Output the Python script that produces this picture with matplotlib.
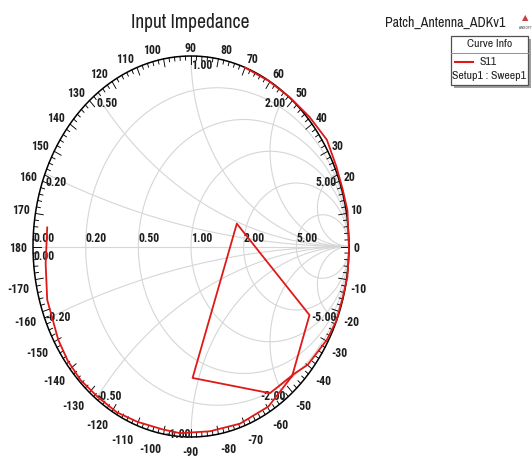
import numpy as np
import matplotlib
matplotlib.use('Agg')
import matplotlib.pyplot as plt
from matplotlib.patches import Rectangle

W, H = 532, 457
plt.rcParams['font.family'] = ['Liberation Sans Narrow', 'Archivo Narrow', 'Roboto Condensed', 'DejaVu Sans']
lab_fam = ['Liberation Sans Narrow', 'Roboto Condensed', 'Archivo Narrow', 'DejaVu Sans']

s11_re = [-0.91, -0.92, -0.91, -0.87, -0.84, -0.78, -0.70, -0.59, -0.47, -0.34,
          -0.18, -0.07, 0.12, 0.31, 0.49, 0.64, 0.75, 0.29, 0.01, 0.50,
          0.65, 0.74, 0.86, 0.92, 0.96, 0.99, 1.00, 0.99, 0.96, 0.92,
          0.86, 0.75, 0.63, 0.49, 0.34]
s11_im = [0.10, -0.09, -0.28, -0.40, -0.49, -0.60, -0.70, -0.79, -0.87, -0.92,
          -0.96, -0.98, -0.97, -0.93, -0.84, -0.68, -0.36, 0.12, -0.69, -0.77,
          -0.67, -0.62, -0.49, -0.39, -0.27, -0.16, -0.02, 0.19, 0.30, 0.42,
          0.56, 0.68, 0.78, 0.87, 0.94]

r_circles = [0.2, 0.5, 1.0, 2.0, 5.0]
r_labels = ['0.20', '0.50', '1.00', '2.00', '5.00']
x_arcs = [0.2, 0.5, 1.0, 2.0, 5.0]
x_labels = ['0.20', '0.50', '1.00', '2.00', '5.00']
angle_labels = list(range(-170, 190, 10))

grid_col = '#d6d6d6'
txt_col = '#1e1e1e'
rx, ry = 158.0, 190.5   # circle radius in pixels (chart is stretched)

fig = plt.figure(figsize=(W / 100, H / 100), dpi=100)
ax = fig.add_axes([33 / W, 1 - 437 / H, 316 / W, 381 / H])
ax.set_xlim(-1, 1)
ax.set_ylim(-1, 1)
ax.axis('off')

t = np.linspace(0, 2 * np.pi, 500)
# constant resistance circles
for r in r_circles:
    c = r / (1 + r)
    rad = 1 / (1 + r)
    ax.plot(c + rad * np.cos(t), rad * np.sin(t), color=grid_col, lw=0.8, zorder=1)
# constant reactance arcs
rr = np.concatenate([[0], np.geomspace(1e-3, 1e4, 900)])
for x in x_arcs:
    for sgn in (1, -1):
        z = rr + 1j * sgn * x
        g = (z - 1) / (z + 1)
        ax.plot(g.real, g.imag, color=grid_col, lw=0.8, zorder=1)
ax.plot([-1, 1], [0, 0], color=grid_col, lw=0.8, zorder=1)

# outer circle and degree ticks
ax.plot(np.cos(t), np.sin(t), color='black', lw=1.1, zorder=3, clip_on=False)
for deg in range(-180, 180, 2):
    a = np.radians(deg)
    L = 8 if deg % 10 == 0 else 4
    ax.plot([np.cos(a), (1 - L / rx) * np.cos(a)], [np.sin(a), (1 - L / ry) * np.sin(a)],
            color='black', lw=0.65, zorder=3, clip_on=False)

# degree labels
for deg in angle_labels:
    a = np.radians(deg)
    ca, sa = np.cos(a), np.sin(a)
    if abs(ca) < 0.05:
        ha, dx = 'center', -1
    elif ca > 0:
        ha, dx = 'left', 1 + 3 * ca
    else:
        ha, dx = 'right', -(2 + 4 * abs(ca))
    if deg in (0, 180):
        dy = -2.5
    elif sa > 0:
        dy = 2 + 6 * sa
    else:
        dy = -(9 + 6 * abs(sa))
    ax.annotate(str(deg), (ca, sa), xytext=(dx, dy), textcoords='offset pixels',
                ha=ha, va='center', fontsize=8.5, fontweight='bold', color=txt_col,
                family=lab_fam, annotation_clip=False)

# resistance labels along the real axis
for r, lbl in zip(r_circles, r_labels):
    g = (r - 1) / (r + 1)
    ax.annotate(lbl, (g, 0), xytext=(0, 1), textcoords='offset pixels',
                ha='left', va='bottom', fontsize=8.5, fontweight='bold', color=txt_col,
                family=lab_fam)
ax.annotate('0.00', (-1, 0), xytext=(0, 1), textcoords='offset pixels',
            ha='left', va='bottom', fontsize=8.5, fontweight='bold', color=txt_col,
            family=lab_fam)
ax.annotate('0.00', (-1, 0), xytext=(0, -4), textcoords='offset pixels',
            ha='left', va='top', fontsize=8.5, fontweight='bold', color=txt_col,
            family=lab_fam)

# reactance labels on the rim
for x, lbl in zip(x_arcs, x_labels):
    g = (1j * x - 1) / (1j * x + 1)
    ha = 'left' if x <= 1 else 'right'
    ax.annotate(lbl, (g.real, g.imag), xytext=(0, -3), textcoords='offset pixels',
                ha=ha, va='top', fontsize=8.5, fontweight='bold', color=txt_col,
                family=lab_fam)
    g = (-1j * x - 1) / (-1j * x + 1)
    ha = 'left' if x < 1 else 'right'
    ax.annotate('-' + lbl, (g.real, g.imag), xytext=(0, 2), textcoords='offset pixels',
                ha=ha, va='center', fontsize=8.5, fontweight='bold', color=txt_col,
                family=lab_fam)

# S11 curve
ax.plot(s11_re, s11_im, color='#e01818', lw=1.3, zorder=4, clip_on=False)


def fx(px):
    return px / W


def fy(py):
    return 1 - py / H


fig.text(fx(190), fy(23), 'Input Impedance', ha='center', va='center',
         fontsize=14, color='#202020')
fig.text(fx(445), fy(23), 'Patch_Antenna_ADKv1', ha='center', va='center',
         fontsize=10, color='#202020')

# small ansoft logo
fig.text(fx(525), fy(18), '\u25b2', ha='center', va='center', fontsize=6,
         color='#c84040', family='DejaVu Sans')
fig.text(fx(525), fy(28), 'ANSOFT', ha='center', va='center', fontsize=2.8,
         fontweight='bold', color='#444444')

# curve info box with shadow
fig.add_artist(Rectangle((fx(454), fy(88)), 77 / W, 49 / H, transform=fig.transFigure,
                         facecolor='#a0a0a0', edgecolor='none', zorder=5))
fig.add_artist(Rectangle((fx(451), fy(85)), 77 / W, 49 / H, transform=fig.transFigure,
                         facecolor='white', edgecolor='#505050', lw=0.9, zorder=6))
fig.add_artist(plt.Line2D([fx(451), fx(528)], [fy(53), fy(53)], transform=fig.transFigure,
                          color='#909090', lw=0.7, zorder=7))
fig.text(fx(489.5), fy(44), 'Curve Info', ha='center', va='center', fontsize=8.5,
         color='#202020', zorder=8)
fig.add_artist(plt.Line2D([fx(455), fx(473)], [fy(62), fy(62)], transform=fig.transFigure,
                          color='#e01818', lw=1.5, zorder=8))
fig.text(fx(480), fy(62), 'S11', ha='left', va='center', fontsize=8.5,
         color='#202020', zorder=8)
fig.text(fx(489.5), fy(76), 'Setup1 : Sweep1', ha='center', va='center', fontsize=8.5,
         color='#202020', zorder=8)

fig.savefig('out.png', dpi=100)
